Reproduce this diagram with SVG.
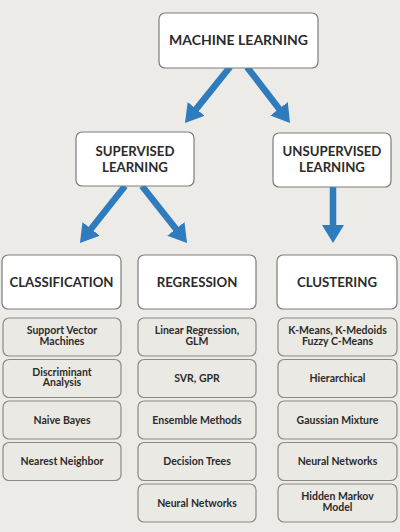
<svg xmlns="http://www.w3.org/2000/svg" width="400" height="532" viewBox="0 0 400 532">
<defs>
<style>
.bg{fill:#ecebe7}
.hb{fill:#ffffff;stroke:#7d7c79;stroke-width:1.2}
.sb{fill:#ebe9e4;stroke:#8c8a86;stroke-width:1.2}
.ht{font-family:Lato,"Liberation Sans",sans-serif;font-weight:700;fill:#2b2b2b;text-anchor:middle}
.h1{font-size:14px}
.h2{font-size:13.2px}
.st{font-family:Lato,"Liberation Sans",sans-serif;font-weight:700;font-size:10.5px;fill:#2b2b2b;text-anchor:middle}
.ar{stroke:#2e7bbd;stroke-width:6.5;fill:none;marker-end:url(#ah)}
</style>
<marker id="ah" markerUnits="userSpaceOnUse" markerWidth="18" markerHeight="22" viewBox="0 0 18 22" refX="6" refY="11" orient="auto">
<path d="M0,0 L18,11 L0,22 z" fill="#2e7bbd"/>
</marker>
</defs>
<rect class="bg" x="0" y="0" width="400" height="532"/>

<g id="connectors">
<line class="ar" x1="230" y1="67" x2="192.5" y2="113.6"/>
<line class="ar" x1="247" y1="67" x2="282.7" y2="113.5"/>
<line class="ar" x1="125" y1="186" x2="87.4" y2="233.6"/>
<line class="ar" x1="142" y1="186" x2="179.6" y2="233.6"/>
<line class="ar" x1="333" y1="187" x2="333" y2="231"/>
</g>

<g id="machine-learning">
<rect class="hb" x="159" y="13" width="159" height="55" rx="6"/>
<text class="ht h1" x="238.5" y="45">MACHINE LEARNING</text>
</g>
<g id="supervised">
<rect class="hb" x="76" y="132" width="118" height="54" rx="6"/>
<text class="ht h2" x="135" y="155.5">SUPERVISED</text>
<text class="ht h2" x="135" y="171.5">LEARNING</text>
</g>
<g id="unsupervised">
<rect class="hb" x="273" y="133" width="118" height="54" rx="6"/>
<text class="ht h2" x="332" y="156">UNSUPERVISED</text>
<text class="ht h2" x="332" y="172">LEARNING</text>
</g>

<g id="classification">
<rect class="hb" x="2" y="255" width="119" height="54" rx="6"/>
<text class="ht h2" x="61.5" y="287">CLASSIFICATION</text>
</g>
<g id="regression">
<rect class="hb" x="138" y="255" width="118" height="54" rx="6"/>
<text class="ht h2" x="197" y="287">REGRESSION</text>
</g>
<g id="clustering">
<rect class="hb" x="277" y="255" width="120" height="54" rx="6"/>
<text class="ht h2" x="337" y="287">CLUSTERING</text>
</g>

<g id="svm">
<rect class="sb" x="3" y="318" width="118" height="38" rx="6"/>
<text class="st" x="62" y="334">Support Vector</text>
<text class="st" x="62" y="344.5">Machines</text>
</g>
<g id="discriminant">
<rect class="sb" x="3" y="359.5" width="118" height="38" rx="6"/>
<text class="st" x="62" y="375.5">Discriminant</text>
<text class="st" x="62" y="386">Analysis</text>
</g>
<g id="naive-bayes">
<rect class="sb" x="3" y="401" width="118" height="38" rx="6"/>
<text class="st" x="62" y="423.5">Naive Bayes</text>
</g>
<g id="nearest-neighbor">
<rect class="sb" x="3" y="442.5" width="118" height="38" rx="6"/>
<text class="st" x="62" y="465">Nearest Neighbor</text>
</g>

<g id="linear-regression">
<rect class="sb" x="138" y="318" width="118" height="38" rx="6"/>
<text class="st" x="197" y="334">Linear Regression,</text>
<text class="st" x="197" y="344.5">GLM</text>
</g>
<g id="svr-gpr">
<rect class="sb" x="138" y="359.5" width="118" height="38" rx="6"/>
<text class="st" x="197" y="382">SVR, GPR</text>
</g>
<g id="ensemble">
<rect class="sb" x="138" y="401" width="118" height="38" rx="6"/>
<text class="st" x="197" y="423.5">Ensemble Methods</text>
</g>
<g id="decision-trees">
<rect class="sb" x="138" y="442.5" width="118" height="38" rx="6"/>
<text class="st" x="197" y="465">Decision Trees</text>
</g>
<g id="neural-networks-reg">
<rect class="sb" x="138" y="484" width="118" height="38" rx="6"/>
<text class="st" x="197" y="506.5">Neural Networks</text>
</g>

<g id="kmeans">
<rect class="sb" x="278" y="318" width="119" height="38" rx="6"/>
<text class="st" x="337.5" y="334">K-Means, K-Medoids</text>
<text class="st" x="337.5" y="344.5">Fuzzy C-Means</text>
</g>
<g id="hierarchical">
<rect class="sb" x="278" y="359.5" width="119" height="38" rx="6"/>
<text class="st" x="337.5" y="382">Hierarchical</text>
</g>
<g id="gaussian-mixture">
<rect class="sb" x="278" y="401" width="119" height="38" rx="6"/>
<text class="st" x="337.5" y="423.5">Gaussian Mixture</text>
</g>
<g id="neural-networks-clu">
<rect class="sb" x="278" y="442.5" width="119" height="38" rx="6"/>
<text class="st" x="337.5" y="465">Neural Networks</text>
</g>
<g id="hmm">
<rect class="sb" x="278" y="484" width="119" height="38" rx="6"/>
<text class="st" x="337.5" y="500">Hidden Markov</text>
<text class="st" x="337.5" y="510.5">Model</text>
</g>
</svg>
